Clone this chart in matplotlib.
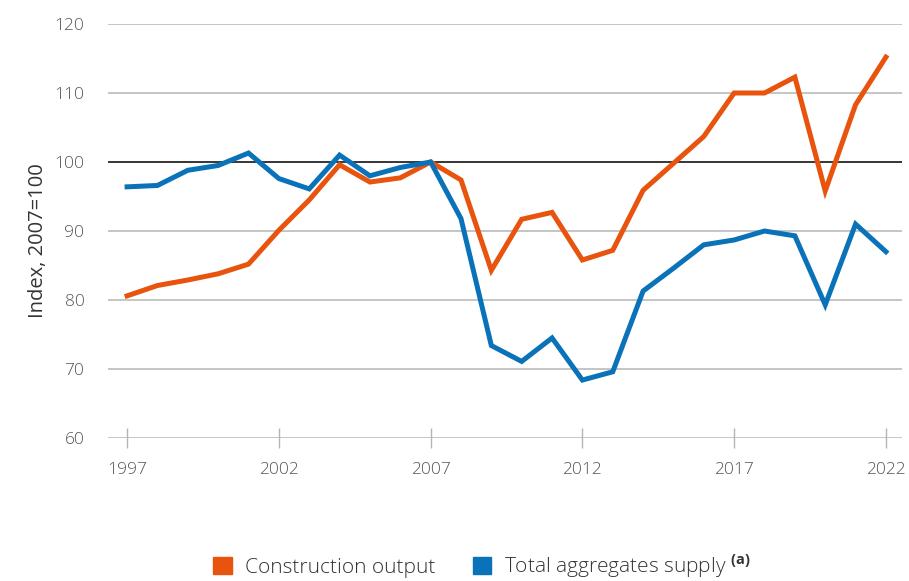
import numpy as np
import matplotlib
matplotlib.use("Agg")
import matplotlib.pyplot as plt
from matplotlib.patches import Patch

## Data (index, 2007=100)
years = list(range(1997, 2023))
construction = [80.6, 82.1, 82.9, 83.8, 85.2, 90.1, 94.5, 99.6, 97.1, 97.7,
                100.0, 97.4, 84.3, 91.7, 92.7, 85.8, 87.2, 95.9, 99.8, 103.7,
                110.0, 110.0, 112.3, 95.8, 108.3, 115.2]
aggregates = [96.4, 96.6, 98.8, 99.5, 101.3, 97.6, 96.1, 101.0, 98.0, 99.2,
              100.0, 91.8, 73.4, 71.1, 74.5, 68.4, 69.6, 81.3, 84.6, 88.0,
              88.7, 90.0, 89.3, 79.3, 91.0, 87.0]
tick_years = [1997, 2002, 2007, 2012, 2017, 2022]
y_ticks = [60, 70, 80, 90, 100, 110, 120]

orange = "#e8540e"
blue = "#0a72b9"
grey_text = "#555555"

plt.rcParams['font.family'] = ['Open Sans', 'DejaVu Sans']
plt.rcParams['font.weight'] = 'light'
plt.rcParams['mathtext.fontset'] = 'custom'
plt.rcParams['mathtext.bf'] = 'Open Sans:bold'
plt.rcParams['mathtext.rm'] = 'Open Sans'

fig = plt.figure(figsize=(9.09, 5.81), dpi=100)
ax = fig.add_axes([0.1188, 0.2461, 0.8735, 0.7126])

# gridlines
for v in y_ticks:
    ax.axhline(v, color="black" if v == 100 else "#b5b5b5", lw=1.1, zorder=1)

ax.plot(years, construction, color=orange, lw=3.6, solid_joinstyle="miter", zorder=3)
ax.plot(years, aggregates, color=blue, lw=3.6, solid_joinstyle="miter", zorder=3)

ax.set_ylim(60, 120)
ax.set_xlim(1996.37, 2022.53)
ax.set_yticks(y_ticks)
ax.set_xticks(tick_years)
for s in ax.spines.values():
    s.set_visible(False)
ax.tick_params(axis="y", length=0, pad=17, labelsize=12.5, labelcolor=grey_text)
ax.tick_params(axis="x", direction="inout", length=14, width=1, color="#b5b5b5",
               pad=10, labelsize=12.5, labelcolor=grey_text)
ax.set_ylabel("Index, 2007=100", fontsize=14.5, color="#333333")
ax.yaxis.set_label_coords(-0.0755, 0.476)

handles = [Patch(color=orange), Patch(color=blue)]
labels = ["Construction output", r"Total aggregates supply $^{\mathbf{(a)}}$"]
fig.legend(handles, labels, loc="center", bbox_to_anchor=(0.53, 0.026), ncol=2,
           frameon=False, fontsize=15, handlelength=0.9, handleheight=0.9,
           handletextpad=0.6, columnspacing=1.8, labelcolor="#333333")

fig.savefig("out.png", dpi=100)
